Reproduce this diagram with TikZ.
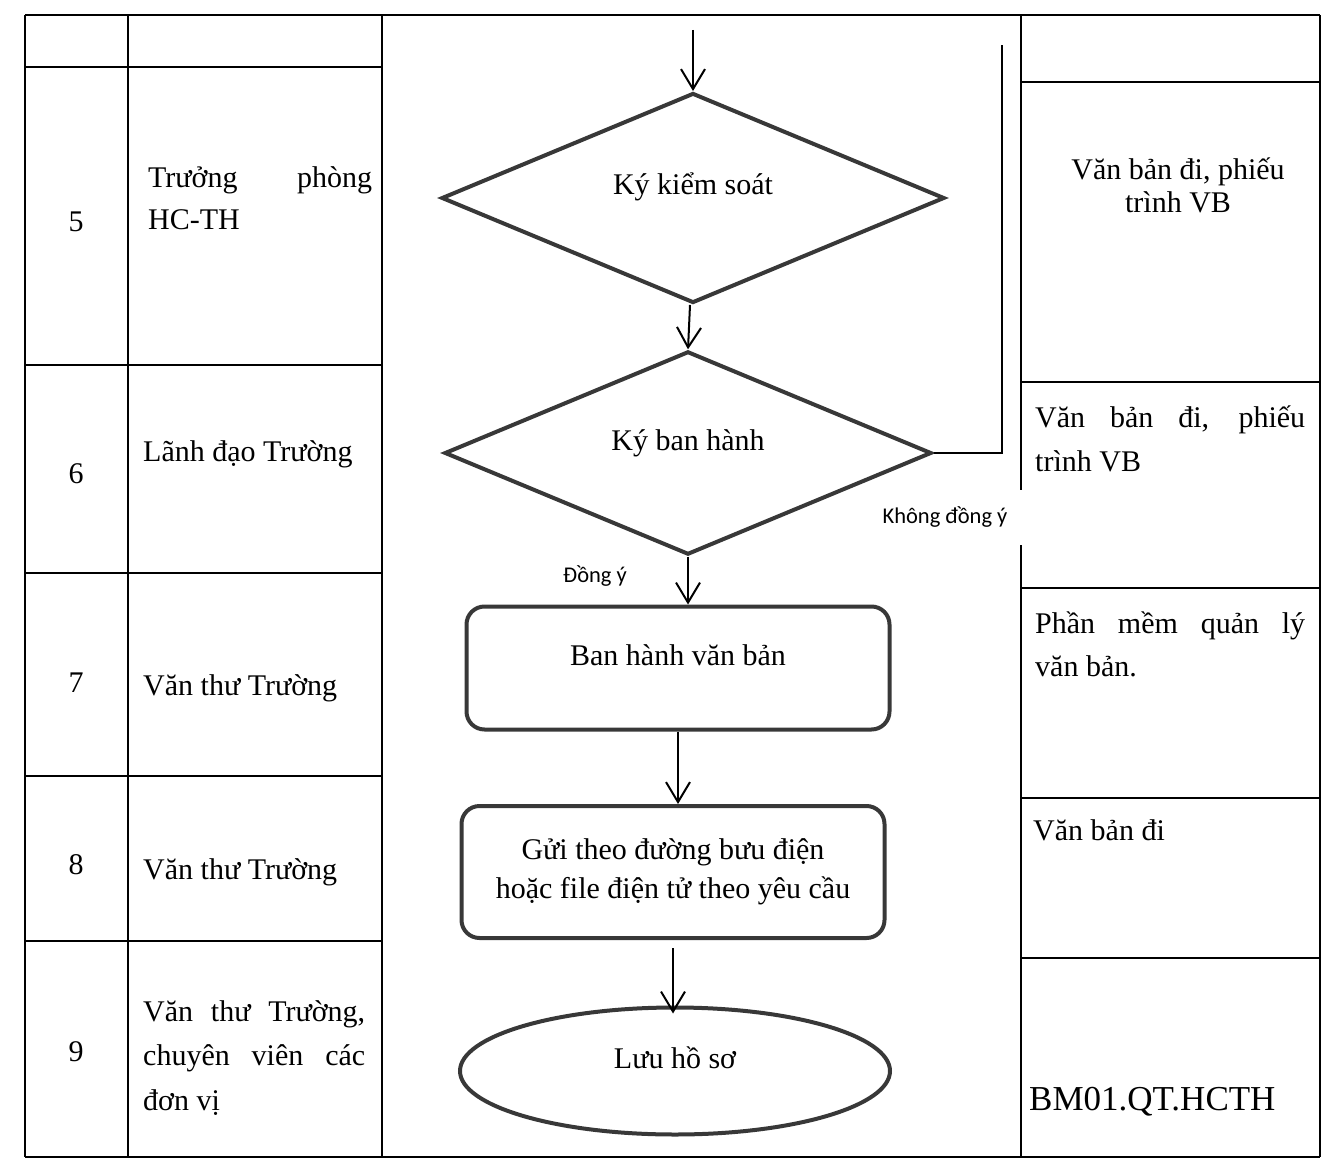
\documentclass[tikz,border=0pt]{standalone}
\usepackage{fontspec}
\setmainfont{Liberation Serif}
\newfontfamily\calib{Carlito}
\usetikzlibrary{shapes.geometric,arrows.meta}
\hyphenpenalty=10000 \exhyphenpenalty=10000
\begin{document}
\begin{tikzpicture}[x=1pt,y=-1pt,
  tline/.style={line width=1.8pt,black},
  shp/.style={draw=black!78,line width=4pt,inner sep=0pt,font=\fontsize{30}{39}\selectfont},
  shptxt/.style={text height=22pt,text depth=28pt},
  arr/.style={line width=2pt,-{Straight Barb[length=20pt,width=24pt,line width=2pt]}},
  cell/.style={inner sep=0pt,font=\fontsize{30}{43}\selectfont},
  lab/.style={inner sep=0pt,font=\calib\fontsize{22.5}{26}\selectfont}]
\useasboundingbox (0,0) rectangle (1327,1166);
% table frame
\draw[tline] (25,15) -- (1320,15);
\draw[tline] (25,1157) -- (1320,1157);
\draw[tline] (25,15) -- (25,1157);
\draw[tline] (128,15) -- (128,1157);
\draw[tline] (382,15) -- (382,1157);
\draw[tline] (1021,15) -- (1021,490);
\draw[tline] (1021,545) -- (1021,1157);
\draw[tline] (1320,15) -- (1320,1157);
\foreach \y in {67,365,573,776,941} \draw[tline] (25,\y) -- (382,\y);
\foreach \y in {82,382,588,798,958} \draw[tline] (1021,\y) -- (1320,\y);
% left cells
\node[cell,anchor=base] (n5) at (76,232) {5};
\node[cell,anchor=base west,text width=224pt,align=justify,font=\fontsize{30}{42}\selectfont] (r5) at (148,188) {Trưởng phòng\linebreak HC-TH};
\node[cell,anchor=base] (n6) at (76,483) {6};
\node[cell,anchor=base west] (r6) at (143,461) {Lãnh đạo Trường};
\node[cell,anchor=base] (n7) at (76,692) {7};
\node[cell,anchor=base west] (r7) at (143,695) {Văn thư Trường};
\node[cell,anchor=base] (n8) at (76,874) {8};
\node[cell,anchor=base west] (r8) at (143,879) {Văn thư Trường};
\node[cell,anchor=base] (n9) at (76,1061) {9};
\node[cell,anchor=base west,text width=222pt,align=justify,font=\fontsize{30}{44.5}\selectfont] (r9) at (143,1021) {Văn thư Trường,\linebreak chuyên viên các\linebreak đơn vị};
% right cells
\node[cell,anchor=base,align=center,font=\fontsize{30}{33}\selectfont] (v5) at (1178,213) {Văn bản đi, phiếu\\trình VB};
\node[cell,anchor=base west,text width=270pt,align=justify,font=\fontsize{30}{44}\selectfont] (v6) at (1035,427) {Văn bản đi, phiếu\linebreak trình VB};
\node[cell,anchor=base west,text width=270pt,align=justify,font=\fontsize{30}{43}\selectfont] (v7) at (1035,633) {Phần mềm quản lý\linebreak văn bản.};
\node[cell,anchor=base west] (v8) at (1033,840) {Văn bản đi};
\node[cell,anchor=base west,font=\fontsize{35}{40}\selectfont] (v9) at (1029,1110) {BM01.QT.HCTH};
% flowchart
\coordinate (start) at (693,30);
\node[shp,shptxt,diamond,minimum width=503pt,minimum height=205pt] (d1) at (693,198) {Ký kiểm soát};
\node[shp,shptxt,diamond,minimum width=487pt,minimum height=190pt] (d2) at (688,453) {Ký ban hành};
\node[shp,shptxt,rectangle,rounded corners=18pt,minimum width=423pt,minimum height=123pt] (b1) at (678,668) {Ban hành văn bản};
\node[shp,rectangle,rounded corners=18pt,minimum width=423pt,minimum height=132pt,align=center] (b2) at (673,872) {Gửi theo đường bưu điện\\hoặc file điện tử theo yêu cầu};
\node[shp,shptxt,ellipse,minimum width=430pt,minimum height=127pt] (e) at (675,1071) {Lưu hồ sơ};
\coordinate (loopend) at (1002,45);
\draw[arr] (start) -- (d1.north);
\draw[arr] ([xshift=-3pt]d1.south) -- (d2.north);
\draw[arr] (d2.south) -- (d2.south |- b1.north);
\draw[arr] (b1.south) -- (b1.south |- b2.north);
\draw[arr] ([yshift=-8pt]b2.south) -- ([yshift=-8pt]b2.south |- e.north);
\draw[line width=2pt] (d2.east) -| (loopend);
\node[lab] (kdy) at (945,517) {Không đồng ý};
\node[lab] (dy) at (595,576) {Đồng ý};
\end{tikzpicture}
\end{document}
